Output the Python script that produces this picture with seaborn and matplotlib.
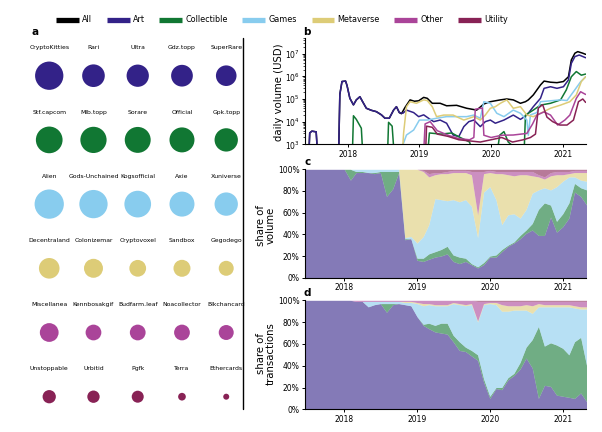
import numpy as np
import pandas as pd
import matplotlib
matplotlib.use("Agg")
import matplotlib.pyplot as plt
import matplotlib.dates as mdates
import matplotlib.ticker as mticker
from matplotlib.lines import Line2D
import seaborn as sns

# ---------------- data ----------------
categories = ["All", "Art", "Collectible", "Games", "Metaverse", "Other", "Utility"]
palette = {"All": "#000000", "Art": "#332288", "Collectible": "#117733",
           "Games": "#88CCEE", "Metaverse": "#DDCC77", "Other": "#AA4499",
           "Utility": "#882255"}

# panel a: top-5 collections per category (relative volume, CryptoKitties = 100)
row_categories = ["Art", "Collectible", "Games", "Metaverse", "Other", "Utility"]
art_names = ["CryptoKitties", "Rari", "Ultra", "Gdz.topp", "SuperRare"]
coll_names = ["Stf.capcom", "Mlb.topp", "Sorare", "Official", "Gpk.topp"]
games_names = ["Alien", "Gods-Unchained", "Kogsofficial", "Axie", "Xuniverse"]
meta_names = ["Decentraland", "Colonizemar", "Cryptovoxel", "Sandbox", "Gegodego"]
other_names = ["Miscellanea", "Kennbosakgif", "Budfarm.leaf", "Noacollector", "Blkchancard"]
util_names = ["Unstoppable", "Urbitid", "Pgfk", "Terra", "Ethercards"]
art_rel = [100, 64, 62, 59, 53]
coll_rel = [89, 86, 84, 78, 68]
games_rel = [107, 100, 89, 78, 68]
meta_rel = [53, 45, 35, 36, 28]
other_rel = [44, 31, 31, 31, 28]
util_rel = [22, 19, 18, 7.4, 4.5]

# panel b: daily volume, log10(USD), at decimal-year dates
art_years = [2017.40, 2017.45, 2017.47, 2017.50, 2017.56, 2017.59, 2017.87, 2017.89, 2017.92, 2017.97, 2017.99,
             2018.03, 2018.08, 2018.12, 2018.17, 2018.21, 2018.26, 2018.33, 2018.40, 2018.47, 2018.52, 2018.58,
             2018.64, 2018.68, 2018.72, 2018.77, 2018.82, 2018.92, 2018.99, 2019.06, 2019.15, 2019.20, 2019.29,
             2019.38, 2019.47, 2019.55, 2019.62, 2019.69, 2019.76, 2019.85, 2019.92, 2019.99, 2020.06, 2020.18,
             2020.31, 2020.41, 2020.50, 2020.59, 2020.69, 2020.74, 2020.83, 2020.92, 2021.01, 2021.08, 2021.12,
             2021.17, 2021.23, 2021.32]
art_log = [2.0, 2.0, 3.50, 3.58, 3.55, 2.0, 2.0, 5.20, 5.77, 5.79, 5.60,
           5.03, 4.74, 4.96, 5.10, 4.87, 4.59, 4.50, 4.44, 4.30, 4.15, 4.15,
           4.51, 4.66, 4.40, 4.37, 4.51, 4.40, 4.22, 4.30, 4.10, 4.00, 4.07,
           3.93, 3.41, 3.34, 3.78, 4.00, 4.07, 3.78, 4.00, 4.07, 3.93, 4.07,
           4.29, 4.10, 4.29, 4.66, 5.03, 5.47, 5.54, 5.47, 5.54, 5.84, 6.57,
           6.87, 6.94, 6.82]
all_years = [2017.40, 2017.45, 2017.47, 2017.50, 2017.56, 2017.59, 2017.87, 2017.89, 2017.92, 2017.97, 2017.99,
             2018.03, 2018.08, 2018.12, 2018.17, 2018.21, 2018.26, 2018.33, 2018.40, 2018.47, 2018.52, 2018.58,
             2018.64, 2018.68, 2018.72, 2018.75, 2018.80, 2018.87, 2018.93, 2018.99, 2019.06, 2019.11, 2019.18,
             2019.29, 2019.38, 2019.52, 2019.66, 2019.80, 2019.90, 2019.99, 2020.13, 2020.22, 2020.31, 2020.41,
             2020.48, 2020.52, 2020.59, 2020.69, 2020.74, 2020.83, 2020.92, 2021.01, 2021.08, 2021.12, 2021.17,
             2021.21, 2021.28, 2021.32]
all_log = [2.0, 2.0, 3.50, 3.58, 3.55, 2.0, 2.0, 5.20, 5.77, 5.79, 5.60,
           5.03, 4.74, 4.96, 5.10, 4.87, 4.59, 4.50, 4.44, 4.30, 4.15, 4.15,
           4.51, 4.66, 4.40, 4.35, 4.63, 4.96, 4.90, 4.92, 5.07, 5.03, 4.81,
           4.81, 4.70, 4.72, 4.59, 4.51, 4.78, 4.88, 4.96, 5.00, 4.96, 4.81,
           4.88, 4.96, 5.18, 5.62, 5.79, 5.74, 5.72, 5.77, 5.98, 6.72, 7.02,
           7.09, 7.02, 6.97]
coll_years = [2018.06, 2018.08, 2018.12, 2018.19, 2018.22, 2018.55, 2018.57, 2018.62, 2018.66, 2019.10, 2019.14,
              2019.30, 2019.45, 2019.57, 2019.70, 2019.76, 2020.08, 2020.12, 2020.18, 2020.24, 2020.46, 2020.48,
              2020.59, 2020.69, 2020.83, 2020.97, 2021.05, 2021.12, 2021.19, 2021.26, 2021.32]
coll_log = [2.0, 4.26, 4.10, 3.71, 2.0, 2.0, 3.97, 3.80, 2.0, 2.0, 3.50,
            3.45, 3.50, 3.30, 3.10, 2.5, 2.5, 3.40, 3.56, 3.10, 2.5, 4.29,
            4.51, 4.73, 4.81, 4.96, 5.40, 5.98, 6.21, 6.05, 6.10]
games_years = [2018.72, 2018.75, 2018.82, 2018.92, 2019.00, 2019.11, 2019.24, 2019.38, 2019.52, 2019.66, 2019.76,
               2019.85, 2019.90, 2019.99, 2020.08, 2020.18, 2020.31, 2020.41, 2020.50, 2020.52, 2020.55, 2020.64,
               2020.69, 2020.83, 2020.97, 2021.06, 2021.15, 2021.25, 2021.32]
games_log = [2.0, 2.8, 3.41, 3.63, 4.07, 4.07, 4.15, 4.22, 4.22, 4.22, 4.29,
             4.15, 4.88, 4.81, 4.37, 4.22, 4.51, 4.37, 4.07, 3.40, 4.30, 4.40,
             4.88, 4.92, 4.96, 4.93, 5.32, 5.76, 5.98]
meta_years = [2018.75, 2018.78, 2018.82, 2018.87, 2018.96, 2019.06, 2019.11, 2019.18, 2019.24, 2019.34, 2019.47,
              2019.62, 2019.76, 2019.85, 2019.92, 2019.99, 2020.06, 2020.13, 2020.22, 2020.31, 2020.41, 2020.50,
              2020.59, 2020.69, 2020.83, 2020.97, 2021.10, 2021.19, 2021.26, 2021.32]
meta_log = [2.0, 3.50, 4.66, 4.88, 4.81, 4.96, 4.93, 4.66, 4.22, 4.29, 4.29,
            4.07, 4.22, 4.07, 4.29, 4.59, 4.66, 4.81, 4.96, 4.59, 4.66, 4.29,
            4.22, 4.37, 4.59, 4.73, 4.88, 5.18, 5.77, 5.98]
other_years = [2019.05, 2019.08, 2019.15, 2019.25, 2019.40, 2019.55, 2019.70, 2019.76, 2019.78, 2019.88, 2019.90,
               2020.00, 2020.15, 2020.31, 2020.50, 2020.58, 2020.64, 2020.74, 2020.83, 2020.93, 2021.03, 2021.10,
               2021.19, 2021.25, 2021.32]
other_log = [2.0, 3.90, 4.00, 3.60, 3.40, 3.25, 3.20, 3.30, 4.55, 4.60, 3.40,
             3.30, 3.40, 3.41, 3.48, 3.90, 4.29, 4.43, 4.29, 3.85, 4.07, 4.29,
             5.03, 5.32, 5.20]
util_years = [2019.08, 2019.10, 2019.18, 2019.25, 2019.40, 2019.55, 2019.70, 2019.85, 2020.00, 2020.15, 2020.30,
              2020.45, 2020.55, 2020.62, 2020.66, 2020.72, 2020.78, 2020.86, 2020.96, 2021.06, 2021.15, 2021.22,
              2021.28, 2021.32]
util_log = [2.0, 3.80, 3.75, 3.45, 3.35, 3.20, 3.15, 3.10, 3.20, 3.30, 3.10,
            3.20, 3.30, 3.45, 4.60, 4.75, 4.20, 4.00, 3.85, 3.85, 4.07, 4.88,
            5.00, 4.85]

# panels c, d: monthly shares (%), Jun 2017 .. May 2021
share_months = pd.date_range("2017-06-01", periods=48, freq="MS")
vol_art = [100, 100, 100, 100, 100, 100, 100, 100,
           90, 97, 97, 97, 96, 97, 75, 82, 97, 35, 36,
           16, 15, 17, 19, 20, 22, 15, 13, 15, 12, 9, 12,
           19, 19, 24, 29, 32, 36, 41, 44, 39, 39, 56, 42,
           47, 55, 79, 75, 67]
vol_coll = [0, 0, 0, 0, 0, 0, 0, 0,
            10, 1, 1, 0, 1, 1, 23, 16, 1, 1, 0,
            2, 3, 5, 5, 6, 7, 6, 6, 3, 1, 1, 2,
            1, 2, 2, 1, 1, 3, 3, 6, 24, 30, 11, 10,
            12, 14, 8, 8, 14]
vol_games = [0, 0, 0, 0, 0, 0, 0, 0,
             0, 2, 2, 3, 3, 2, 2, 2, 2, 1, 2,
             14, 20, 27, 49, 46, 42, 51, 51, 54, 53, 27, 65,
             64, 51, 23, 28, 26, 16, 19, 28, 18, 14, 14, 32,
             30, 24, 6, 7, 8]
vol_meta = [0, 0, 0, 0, 0, 0, 0, 0,
            0, 0, 0, 0, 0, 0, 0, 0, 0, 63, 62,
            68, 60, 44, 22, 24, 25, 25, 27, 25, 29, 21, 17,
            13, 24, 47, 37, 35, 40, 32, 16, 12, 8, 13, 11,
            6, 3, 4, 7, 8]
vol_other = [0, 0, 0, 0, 0, 0, 0, 0,
             0, 0, 0, 0, 0, 0, 0, 0, 0, 0, 0,
             0, 1, 3, 2, 1, 2, 2, 2, 2, 3, 40, 2,
             2, 2, 2, 3, 4, 3, 3, 4, 2, 2, 3, 3,
             3, 2, 2, 2, 2]
vol_util = [0, 0, 0, 0, 0, 0, 0, 0,
            0, 0, 0, 0, 0, 0, 0, 0, 0, 0, 0,
            0, 1, 4, 3, 3, 2, 1, 1, 1, 2, 2, 2,
            1, 2, 2, 2, 2, 2, 2, 2, 5, 7, 3, 2,
            2, 2, 1, 1, 1]

tx_art = [100, 100, 100, 100, 100, 100, 100, 100, 100,
          99, 99, 94, 96, 97, 89, 96, 97, 96, 95,
          85, 77, 74, 71, 70, 69, 62, 54, 53, 49, 45, 25,
          10, 19, 18, 27, 31, 37, 47, 38, 10, 22, 21, 13,
          12, 11, 10, 15, 7]
tx_coll = [0, 0, 0, 0, 0, 0, 0, 0, 0,
           0, 0, 0, 0, 0, 8, 1, 0, 0, 0,
           0, 1, 5, 6, 9, 10, 6, 8, 4, 5, 5, 3,
           2, 1, 2, 2, 2, 6, 10, 26, 66, 36, 40, 46,
           44, 39, 52, 51, 33]
tx_games = [0, 0, 0, 0, 0, 0, 0, 0, 0,
            0, 0, 5, 3, 2, 2, 2, 2, 2, 3,
            12, 17, 17, 18, 16, 16, 29, 34, 38, 42, 30, 68,
            85, 76, 70, 61, 58, 48, 34, 24, 18, 36, 33, 35,
            38, 44, 31, 26, 52]
tx_meta = [0, 0, 0, 0, 0, 0, 0, 0, 0,
           0, 0, 0, 0, 0, 0, 0, 0, 1, 1,
           1, 2, 1, 1, 1, 1, 1, 1, 1, 1, 1, 1,
           1, 2, 6, 5, 4, 4, 5, 7, 3, 2, 2, 2,
           2, 2, 2, 2, 2]
tx_other = [0, 0, 0, 0, 0, 0, 0, 0, 0,
            1, 1, 1, 1, 1, 1, 1, 1, 1, 1,
            2, 3, 3, 4, 4, 4, 2, 3, 4, 3, 18, 2,
            1, 1, 3, 4, 4, 4, 3, 4, 2, 3, 3, 3,
            3, 3, 4, 5, 5]
tx_util = [0, 0, 0, 0, 0, 0, 0, 0, 0,
           0, 0, 0, 0, 0, 0, 0, 0, 0, 0,
           0, 0, 0, 0, 0, 0, 0, 0, 0, 0, 1, 1,
           1, 1, 1, 1, 1, 1, 1, 1, 1, 1, 1, 1,
           1, 1, 1, 1, 1]

# ---------------- style ----------------
sns.set_theme(style="ticks", rc={
    "axes.edgecolor": "black", "xtick.color": "black", "ytick.color": "black",
    "text.color": "black", "axes.labelcolor": "black",
    "axes.linewidth": 0.8,
})
plt.rcParams["font.family"] = ["DejaVu Sans"]

W, H = 602, 432
fig = plt.figure(figsize=(W / 100, H / 100), dpi=100)


def px_axes(left, top, right, bottom):
    return fig.add_axes([left / W, 1 - bottom / H, (right - left) / W, (bottom - top) / H])


def year_to_date(y):
    return pd.Timestamp("2017-01-01") + pd.to_timedelta((np.asarray(y, dtype=float) - 2017.0) * 365.25, unit="D")


# ---------------- panel a ----------------
names_rows = [art_names, coll_names, games_names, meta_names, other_names, util_names]
rel_rows = [art_rel, coll_rel, games_rel, meta_rel, other_rel, util_rel]
recs = []
for r, (cat, nms, rels) in enumerate(zip(row_categories, names_rows, rel_rows)):
    for c, (nm, v) in enumerate(zip(nms, rels)):
        recs.append({"name": nm, "category": cat, "rank": c, "row": r, "rel": v})
df_a = pd.DataFrame(recs)

ax_a = px_axes(27.1, 43.6, 248.35, 428.8)
sns.scatterplot(data=df_a, x="rank", y="row", hue="category", palette=palette,
                size="rel", sizes=(0, 498), size_norm=(0, 120), linewidth=0,
                legend=False, ax=ax_a, alpha=1)
ax_a.set_xlim(-0.5, 4.5)
ax_a.set_ylim(5.5, -0.5)
ax_a.axis("off")
for _, rrow in df_a.iterrows():
    ax_a.text(rrow["rank"], rrow["row"] - 0.432, rrow["name"], ha="center", va="center", fontsize=4.4)

# ---------------- panel b ----------------
series = [("All", all_years, all_log), ("Art", art_years, art_log),
          ("Collectible", coll_years, coll_log), ("Games", games_years, games_log),
          ("Metaverse", meta_years, meta_log), ("Other", other_years, other_log),
          ("Utility", util_years, util_log)]
frames = []
for nm, yrs, lg in series:
    frames.append(pd.DataFrame({"date": year_to_date(yrs), "volume": 10.0 ** np.asarray(lg), "category": nm}))
df_b = pd.concat(frames, ignore_index=True)

ax_b = px_axes(305, 37.8, 586, 144.3)
ax_b.set_yscale("log")
sns.lineplot(data=df_b, x="date", y="volume", hue="category", hue_order=categories,
             palette=palette, estimator=None, linewidth=1.1, legend=False, ax=ax_b)
ax_b.set_ylim(1e3, 10 ** 7.7)
ax_b.set_xlim(year_to_date(2017.404), year_to_date(2021.325))
ax_b.yaxis.set_major_locator(mticker.LogLocator(base=10, numticks=10))
ax_b.yaxis.set_minor_locator(mticker.LogLocator(base=10, subs=np.arange(2, 10), numticks=20))
ax_b.yaxis.set_minor_formatter(mticker.NullFormatter())
ax_b.set_xlabel("")
ax_b.set_ylabel("")

# ---------------- panels c, d ----------------
stack_colors = [palette[c] for c in categories[1:]]
ax_c = px_axes(305, 169.3, 586, 277.7)
ax_c.stackplot(share_months, vol_art, vol_coll, vol_games, vol_meta, vol_other, vol_util,
               colors=stack_colors, alpha=0.6, linewidth=0)
ax_d = px_axes(305, 300.3, 586, 409.3)
ax_d.stackplot(share_months, tx_art, tx_coll, tx_games, tx_meta, tx_other, tx_util,
               colors=stack_colors, alpha=0.6, linewidth=0)
for ax in (ax_c, ax_d):
    ax.set_ylim(0, 100)
    ax.set_xlim(year_to_date(2017.46), year_to_date(2021.32))
    ax.yaxis.set_major_locator(mticker.MultipleLocator(20))
    ax.yaxis.set_major_formatter(mticker.PercentFormatter(xmax=100, decimals=0))

for ax in (ax_b, ax_c, ax_d):
    ax.xaxis.set_major_locator(mdates.YearLocator())
    ax.xaxis.set_major_formatter(mdates.DateFormatter("%Y"))
    sns.despine(ax=ax)
    ax.tick_params(axis="both", which="major", labelsize=5.5, length=2.5, width=0.7, pad=1.5)
    ax.tick_params(axis="both", which="minor", length=1.4, width=0.5)

# y labels
fig.text(279 / W, 1 - 92.5 / H, "daily volume (USD)", rotation=90, ha="center", va="center", fontsize=7.3)
fig.text(266 / W, 1 - 225 / H, "share of\nvolume", rotation=90, ha="center", va="center",
         fontsize=7.3, linespacing=0.95)
fig.text(265.5 / W, 1 - 354 / H, "share of\ntransactions", rotation=90, ha="center", va="center",
         fontsize=7.3, linespacing=0.95)

# panel letters
for lbl, x, y in [("a", 34.7, 31.7), ("b", 307, 31.7), ("c", 307.3, 162.3), ("d", 307.7, 293.3)]:
    fig.text(x / W, 1 - y / H, lbl, fontsize=7.5, fontweight="bold", ha="center", va="center")

# separator
fig.add_artist(Line2D([242.7 / W, 242.7 / W], [1 - 38 / H, 1 - 409 / H], transform=fig.transFigure,
                      color="black", linewidth=1.0))

# legend
handles = [Line2D([0], [0], color=palette[c], lw=3.8, solid_capstyle="butt") for c in categories]
fig.legend(handles, categories, loc="center", bbox_to_anchor=(282 / W, 1 - 20 / H), ncol=7,
           frameon=False, fontsize=5.8, handlelength=2.85, handletextpad=0.4, columnspacing=1.8,
           borderaxespad=0, borderpad=0)

fig.savefig("out.png", dpi=100)
